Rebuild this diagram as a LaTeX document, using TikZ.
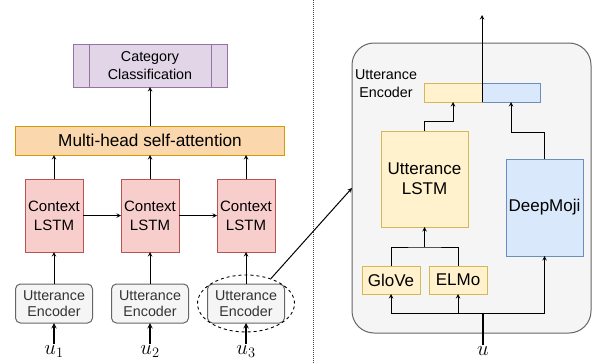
\documentclass[tikz,border=0pt]{standalone}
\usepackage[no-math]{fontspec}
\setmainfont{Liberation Sans}
\usepackage{xcolor}
\usetikzlibrary{shapes, arrows, positioning}

\definecolor{catfill}{HTML}{E1D5E7}
\definecolor{catline}{HTML}{9673A6}
\definecolor{attfill}{HTML}{FAD7AC}
\definecolor{attline}{HTML}{D79B00}
\definecolor{ctxfill}{HTML}{F8CECC}
\definecolor{ctxline}{HTML}{B85450}
\definecolor{encfill}{HTML}{F5F5F5}
\definecolor{encline}{HTML}{666666}
\definecolor{yelfill}{HTML}{FFF2CC}
\definecolor{yelline}{HTML}{D6B656}
\definecolor{blufill}{HTML}{DAE8FC}
\definecolor{bluline}{HTML}{6C8EBF}

\begin{document}
\begin{tikzpicture}[
        x=1pt, y=-1pt,
        context/.style={rectangle, draw=ctxline, line width=1pt, fill=ctxfill, align=center, minimum width=58pt, minimum height=73pt, inner sep=0pt, outer sep=0pt, font=\fontsize{15}{19}\selectfont},
        utter/.style={rectangle, draw=encline, line width=1pt, fill=encfill, text=black!80, align=center, rounded corners=5pt, minimum width=77pt, minimum height=39pt, inner sep=0pt, outer sep=0pt, font=\fontsize{14.3}{16.5}\selectfont},
        attn/.style={rectangle, draw=attline, line width=1pt, fill=attfill, minimum width=269pt, minimum height=29pt, inner sep=0pt, outer sep=0pt, font=\fontsize{17.2}{20}\selectfont},
        cat/.style={rectangle, draw=catline, line width=1pt, fill=catfill, align=center, minimum width=154pt, minimum height=43pt, inner sep=0pt, outer sep=0pt, font=\fontsize{14.3}{18}\selectfont},
        yelbox/.style={rectangle, draw=yelline, line width=1pt, fill=yelfill, align=center, inner sep=0pt, outer sep=0pt, font=\fontsize{17}{20}\selectfont},
        blubox/.style={rectangle, draw=bluline, line width=1pt, fill=blufill, align=center, inner sep=0pt, outer sep=0pt, font=\fontsize{17}{20}\selectfont},
        wrap/.style={rectangle, draw=encline, line width=1pt, fill=encfill, rounded corners=22pt, inner sep=0pt, outer sep=0pt},
        inp/.style={inner sep=1pt, font=\fontsize{21}{24}\selectfont},
        arrow/.style={line width=1pt,->,>=stealth},
        inarrow/.style={line width=1.4pt,->,>=stealth}
    ]
    \useasboundingbox (0,0) rectangle (592,364);

    % left: dialogue model
    \node [context] (ctx1) at (54,215.5) {Context\\LSTM};
    \node [context, right=38pt of ctx1] (ctx2) {Context\\LSTM};
    \node [context, right=38pt of ctx2] (ctx3) {Context\\LSTM};

    \node [utter, below=32pt of ctx1] (enc1) {Utterance\\Encoder};
    \node [utter, below=32pt of ctx2] (enc2) {Utterance\\Encoder};
    \node [utter, below=32pt of ctx3] (enc3) {Utterance\\Encoder};

    \node [attn, above=24pt of ctx2] (mh) {Multi-head self-attention};
    \node [cat, above=39pt of mh] (cat) {Category\\Classification};
    \draw [catline, line width=1pt] ([xshift=16pt]cat.north west) -- ([xshift=16pt]cat.south west);
    \draw [catline, line width=1pt] ([xshift=-16pt]cat.north east) -- ([xshift=-16pt]cat.south east);

    \node [inp, below=21pt of enc1] (u1) {$u_1$};
    \node [inp, below=21pt of enc2] (u2) {$u_2$};
    \node [inp, below=21pt of enc3] (u3) {$u_3$};

    \foreach \i in {1,2,3} {
        \draw [inarrow] (u\i) -- (enc\i);
        \draw [arrow] (enc\i) -- (ctx\i);
        \draw [arrow] (ctx\i) -- (ctx\i |- mh.south);
    }
    \draw [arrow] (ctx1) -- (ctx2);
    \draw [arrow] (ctx2) -- (ctx3);
    \draw [arrow] (mh) -- (cat);

    \node [ellipse, draw, dashed, line width=0.9pt, minimum width=97pt, minimum height=57pt] (sel) at (enc3) {};

    \draw [densely dotted, line width=1pt, black!75] (313,0) -- (313,364);

    % right: utterance encoder
    \node [wrap, minimum width=239pt, minimum height=290pt] (encbox) at (471.5,188) {};
    \node [align=center, font=\fontsize{14.3}{18}\selectfont] (enclab) at (386,84) {Utterance\\Encoder};

    \node [yelbox, minimum width=58pt, minimum height=19pt] (vecw) at (453,92.5) {};
    \node [blubox, minimum width=58pt, minimum height=19pt, right=0pt of vecw] (vecd) {};

    \node [yelbox, minimum width=87pt, minimum height=96pt] (ulstm) at (424.5,179) {Utterance\\LSTM};
    \node [blubox, minimum width=77pt, minimum height=97pt] (moji) at (544.5,207.5) {DeepMoji};
    \node [yelbox, minimum width=58pt, minimum height=28pt] (glove) at (391,280) {GloVe};
    \node [yelbox, minimum width=58pt, minimum height=28pt, right=9pt of glove] (elmo) {ELMo};

    \node [inp] (u) at (483,351) {$u$};

    \draw [arrow] (sel.45) -- (encbox.west);

    \coordinate (split) at (u |- 0,313);
    \coordinate (mrg) at (ulstm.south |- 0,247);
    \coordinate (out) at (482,15);

    \draw [line width=1.4pt] (u) -- (split);
    \draw [arrow] (split) -| (glove.south);
    \draw [arrow] (split) -| (elmo.south);
    \draw [arrow] (split) -| (moji.south);
    \draw [line width=1pt] (glove.north) |- (mrg) -| (elmo.north);
    \draw [arrow] (mrg) -- (ulstm.south);
    \draw [arrow] (ulstm.north) -- ++(0,-10) -| (vecw.south);
    \draw [arrow] (moji.north) -- ++(0,-27) -| (vecd.south);
    \draw [arrow] (vecw.south east) -- (out);

    \end{tikzpicture}
\end{document}
